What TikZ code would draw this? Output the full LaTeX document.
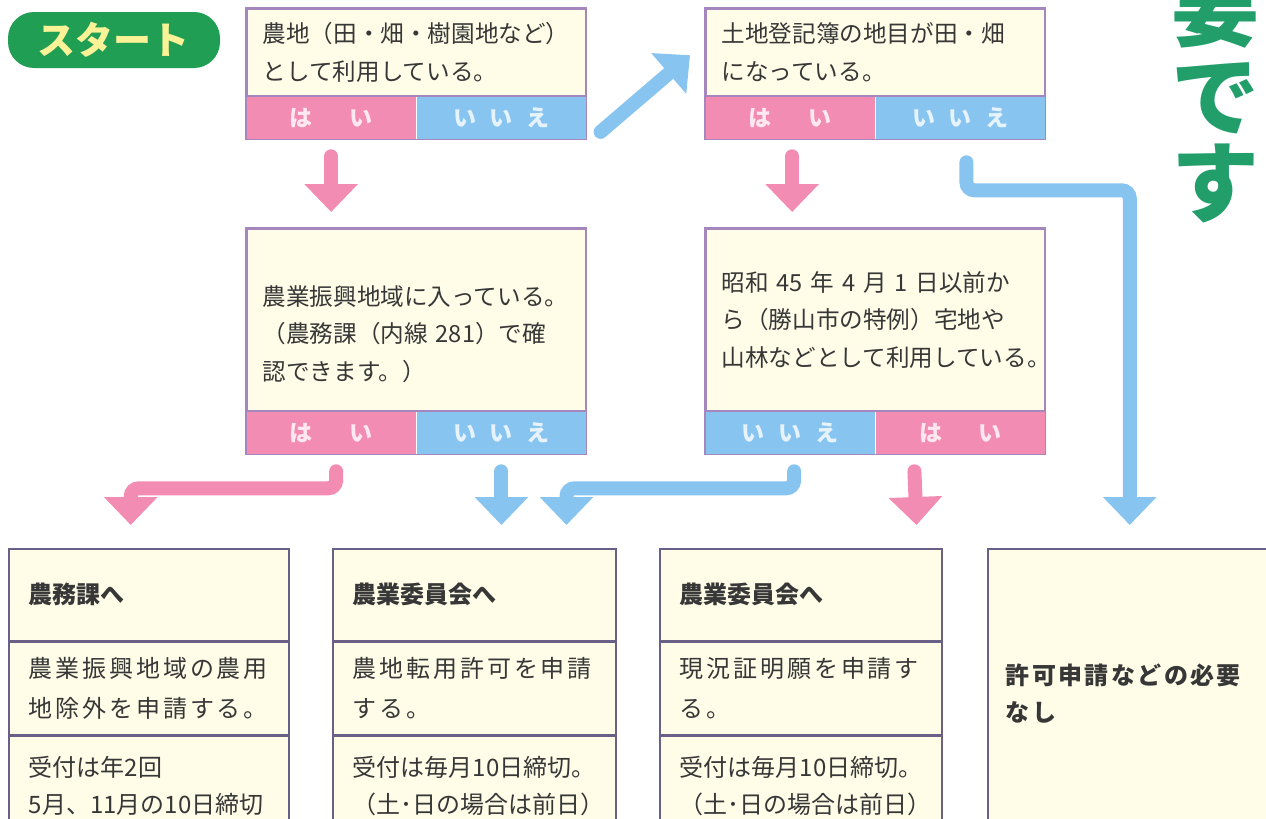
\documentclass[tikz,border=0pt]{standalone}
\usepackage{fontspec}
\setmainfont{Noto Sans CJK JP}
\usetikzlibrary{positioning,arrows.meta}

\definecolor{cream}{RGB}{255,253,232}
\definecolor{yespink}{RGB}{242,140,178}
\definecolor{noblue}{RGB}{135,196,240}
\definecolor{yestext}{RGB}{255,232,240}
\definecolor{notext}{RGB}{230,243,252}
\definecolor{frame}{RGB}{165,135,190}
\definecolor{rowline}{RGB}{105,96,135}
\definecolor{startgreen}{RGB}{32,158,84}
\definecolor{startyellow}{RGB}{250,242,150}
\definecolor{biggreen}{RGB}{34,158,106}
\definecolor{ink}{RGB}{55,55,55}

\begin{document}
\begin{tikzpicture}[x=0.5pt, y=-0.5pt,
    start/.style={fill=startgreen, rounded corners=13pt, minimum width=106pt, minimum height=28pt, text=startyellow, font=\bfseries\fontsize{19pt}{20pt}\selectfont},
    qbox/.style={draw=frame, line width=0.75pt, fill=cream, anchor=north west, minimum width=169.5pt, text width=153.5pt, inner xsep=8pt, align=left, text=ink, font=\fontsize{11.8pt}{18.8pt}\selectfont},
    bar/.style={anchor=north west, minimum width=84.75pt, minimum height=21pt, inner sep=0pt, font=\bfseries\fontsize{11.5pt}{12pt}\selectfont},
    yesbar/.style={bar, fill=yespink, text=yestext},
    nobar/.style={bar, fill=noblue, text=notext},
    outline/.style={draw=frame, line width=0.75pt},
    rowbox/.style={draw=rowline, line width=0.75pt, fill=cream, anchor=north west, inner xsep=10pt, align=left, text=ink},
    ttl/.style={rowbox, minimum height=46pt, font=\bfseries\fontsize{12pt}{14pt}\selectfont},
    mid/.style={rowbox, minimum height=46pt, font=\fontsize{12pt}{20pt}\selectfont\addfontfeature{LetterSpace=12}},
    low/.style={rowbox, minimum height=50pt, font=\fontsize{12pt}{18.5pt}\selectfont},
    bigchar/.style={text=biggreen, inner sep=0pt, font=\bfseries\fontsize{44pt}{44pt}\selectfont},
    pinkarrow/.style={draw=yespink, line width=7pt, line cap=round, rounded corners=4pt, -{Triangle[width=26pt,length=14pt]}},
    bluearrow/.style={pinkarrow, draw=noblue}]

    \useasboundingbox (0,0) rectangle (1266,819);
    \clip (0,0) rectangle (1266,819);

    \node[start] (start) at (114,40) {スタート};

    \node[qbox, minimum height=43.5pt] (q1) at (246,8) {農地（田・畑・樹園地など）\\として利用している。};
    \node[yesbar] (q1y) at (q1.south west) {は\hspace{1.6em}い};
    \node[nobar] (q1n) at (q1y.north east) {い\hspace{.6em}い\hspace{.6em}え};
    \draw[outline] (q1.north west) rectangle (q1n.south east);

    \node[qbox, minimum height=43.5pt] (q2) at (705,8) {土地登記簿の地目が田・畑\\になっている。};
    \node[yesbar] (q2y) at (q2.south west) {は\hspace{1.6em}い};
    \node[nobar] (q2n) at (q2y.north east) {い\hspace{.6em}い\hspace{.6em}え};
    \draw[outline] (q2.north west) rectangle (q2n.south east);

    \node[qbox, minimum height=91pt] (q3) at (246,228) {\mbox{}\\[5.5pt]農業振興地域に入っている。\\（農務課（内線 281）で確\\認できます。）};
    \node[yesbar] (q3y) at (q3.south west) {は\hspace{1.6em}い};
    \node[nobar] (q3n) at (q3y.north east) {い\hspace{.6em}い\hspace{.6em}え};
    \draw[outline] (q3.north west) rectangle (q3n.south east);

    \node[qbox, minimum height=91pt] (q4) at (705,228) {昭和 45 年 4 月 1 日以前か\\ら（勝山市の特例）宅地や\\山林などとして利用している。};
    \node[nobar] (q4n) at (q4.south west) {い\hspace{.6em}い\hspace{.6em}え};
    \node[yesbar] (q4y) at (q4n.north east) {は\hspace{1.6em}い};
    \draw[outline] (q4.north west) rectangle (q4y.south east);

    \node[ttl, minimum width=140pt, text width=120pt] (e1) at (8,548) {農務課へ};
    \node[mid, minimum width=140pt, text width=120pt] (e2) at (e1.south west) {農業振興地域の農用\\地除外を申請する。};
    \node[low, minimum width=140pt, text width=120pt] (e3) at (e2.south west) {受付は年2回\\5月、11月の10日締切};

    \node[ttl, minimum width=141.5pt, text width=121.5pt] (f1) at (332,548) {農業委員会へ};
    \node[mid, minimum width=141.5pt, text width=121.5pt] (f2) at (f1.south west) {農地転用許可を申請\\する。};
    \node[low, minimum width=141.5pt, text width=121.5pt] (f3) at (f2.south west) {受付は毎月10日締切。\\（土･日の場合は前日）};

    \node[ttl, minimum width=141pt, text width=121pt] (g1) at (659,548) {農業委員会へ};
    \node[mid, minimum width=141pt, text width=121pt] (g2) at (g1.south west) {現況証明願を申請す\\る。};
    \node[low, minimum width=141pt, text width=121pt] (g3) at (g2.south west) {受付は毎月10日締切。\\（土･日の場合は前日）};

    \node[rowbox, minimum width=150pt, text width=132pt, inner xsep=9pt, minimum height=145pt, font=\bfseries\fontsize{12pt}{18.5pt}\selectfont\addfontfeature{LetterSpace=10}] (h) at (987,548) {許可申請などの必要\\なし};

    \node[bigchar] (big1) at (1215,8) {要};
    \node[bigchar] (big2) at (1215,98) {で};
    \node[bigchar] (big3) at (1215,183) {す};

    \draw[bluearrow] ([xshift=7pt,yshift=-7pt]q1n.east) -- ([xshift=-7.5pt,yshift=-1.5pt]q2.west);
    \draw[pinkarrow] ([yshift=-8.5pt]q1y.south) -- ([yshift=8pt]q1y.south |- q3.north);
    \draw[pinkarrow] ([xshift=1pt,yshift=-8.5pt]q2y.south) -- ([xshift=1pt,yshift=8pt]q2y.south |- q4.north);
    \draw[bluearrow] ([xshift=3pt,yshift=-11.5pt]q2n.south) -- ([xshift=3pt,yshift=-25.5pt]q2n.south) -| ([xshift=-4pt,yshift=11.5pt]h.north);
    \draw[pinkarrow] ([xshift=2.5pt,yshift=-8.5pt]q3y.south) -- ([xshift=2.5pt,yshift=-17pt]q3y.south) -| ([xshift=-9pt,yshift=11.5pt]e1.north);
    \draw[bluearrow] ([yshift=-8.5pt]q3n.south) -- ([yshift=11.5pt]q3n.south |- f1.north);
    \draw[bluearrow] ([xshift=2pt,yshift=-8.5pt]q4n.south) -- ([xshift=2pt,yshift=-17pt]q4n.south) -| ([xshift=-25pt,yshift=11.5pt]f1.north east);
    \draw[pinkarrow] ([xshift=-23pt,yshift=-8.5pt]q4y.south) -- ([xshift=-13pt,yshift=11.5pt]g1.north east);
\end{tikzpicture}
\end{document}
